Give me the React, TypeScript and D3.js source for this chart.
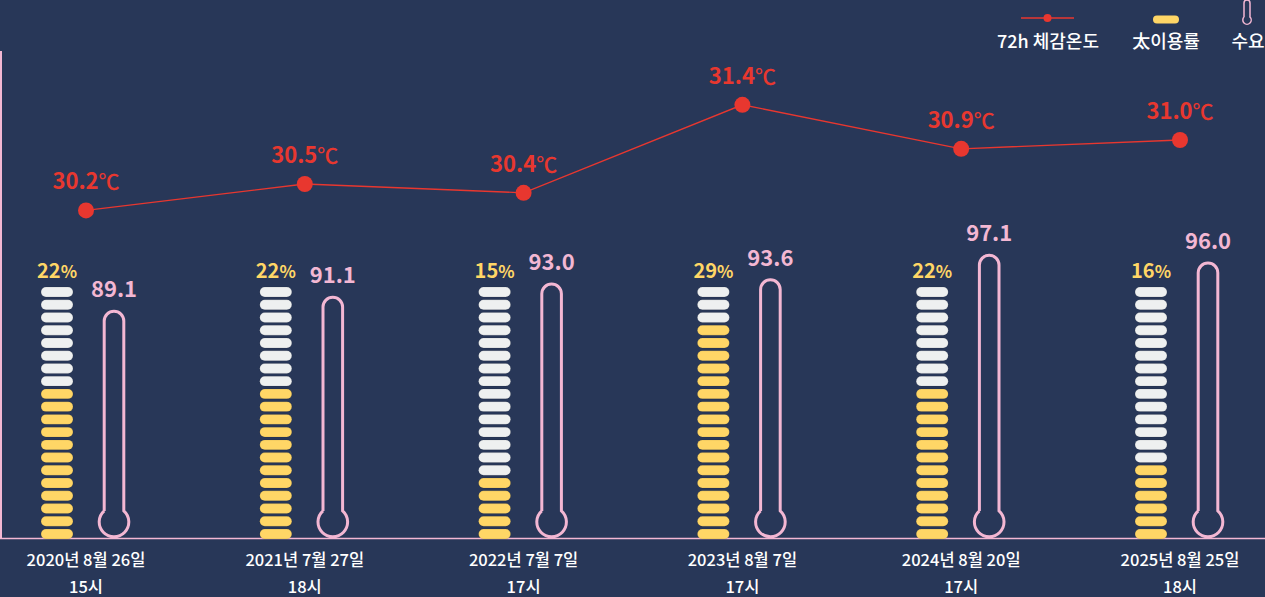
import { useEffect, useRef } from "react";
import * as d3 from "d3";

// values
const dates = ["2020년 8월 26일", "2021년 7월 27일", "2022년 7월 7일", "2023년 8월 7일", "2024년 8월 20일", "2025년 8월 25일"];
const hours = ["15시", "18시", "17시", "17시", "17시", "18시"];
const feelTemp = [30.2, 30.5, 30.4, 31.4, 30.9, 31.0];
const solarRate = [22, 22, 15, 29, 22, 16];
const solarFilled = [12, 12, 5, 17, 12, 6]; // lit segments out of 20
const demand = [89.1, 91.1, 93.0, 93.6, 97.1, 96.0];
const SEGMENTS = 20;

const W = 1265;
const H = 597;
const BG = "#283758";
const RED = "#e8372f";
const YELLOW = "#ffd666";
const PINK = "#f3b7d3";
const WHITE_SEG = "#eef0f0";
const FONT = "'Noto Sans CJK KR', 'Noto Sans', sans-serif";

const App = () => {
  const svgRef = useRef<SVGSVGElement>(null);

  useEffect(() => {
    document.body.style.margin = "0";
    if (!svgRef.current) return;
    const svg = d3.select(svgRef.current);
    svg.selectAll("*").remove();

    svg.append("rect").attr("width", W).attr("height", H).attr("fill", BG);

    const x = d3.scalePoint<string>().domain(dates).range([86, 1180]);
    const yTemp = d3.scaleLinear().domain([30, 32]).range([228, 52]);
    const yDemand = d3.scaleLinear().domain([85, 100]).range([340, 235]);
    const ySeg = d3
      .scaleBand<number>()
      .domain(d3.range(SEGMENTS))
      .range([539, 287])
      .paddingInner(0.22);

    const baseY = 538.5;

    // left and bottom axis lines
    svg.append("line").attr("x1", 1).attr("x2", 1).attr("y1", 51).attr("y2", baseY)
      .attr("stroke", PINK).attr("stroke-width", 2);
    svg.append("line").attr("x1", 0).attr("x2", W).attr("y1", baseY).attr("y2", baseY)
      .attr("stroke", PINK).attr("stroke-width", 1.5);

    const groups = svg
      .append("g")
      .selectAll("g")
      .data(dates)
      .join("g")
      .attr("transform", (d) => `translate(${x(d)},0)`);

    // solar segment bars
    const segW = 32;
    groups.each(function (_, i) {
      const g = d3.select(this);
      g.selectAll("rect.seg")
        .data(d3.range(SEGMENTS))
        .join("rect")
        .attr("class", "seg")
        .attr("x", -29 - segW / 2)
        .attr("y", (k) => ySeg(k)!)
        .attr("width", segW)
        .attr("height", ySeg.bandwidth())
        .attr("rx", ySeg.bandwidth() / 2)
        .attr("fill", (k) => (k < solarFilled[i] ? YELLOW : WHITE_SEG))
        .attr("stroke", "rgba(0,0,0,0.18)")
        .attr("stroke-width", 0.6);

      const pct = g.append("text")
        .attr("x", -29)
        .attr("y", 278)
        .attr("text-anchor", "middle")
        .attr("fill", YELLOW)
        .attr("font-family", FONT)
        .attr("font-weight", 700)
        .attr("font-size", 20);
      pct.append("tspan").text(solarRate[i]);
      pct.append("tspan").attr("font-size", 17).text("%");

      // thermometer for demand
      const cx = 28;
      const w = 9.8;
      const r = 14.8;
      const cy = 522;
      const top = yDemand(demand[i]);
      const join = cy - Math.sqrt(r * r - w * w);
      const p = d3.path();
      p.moveTo(cx - w, join);
      p.lineTo(cx - w, top + w);
      p.arc(cx, top + w, w, Math.PI, 0);
      p.lineTo(cx + w, join);
      const a0 = Math.atan2(join - cy, w);
      const a1 = Math.atan2(join - cy, -w);
      p.arc(cx, cy, r, a0, a1 + 2 * Math.PI, false);
      g.append("path")
        .attr("d", p.toString())
        .attr("fill", "none")
        .attr("stroke", PINK)
        .attr("stroke-width", 3);

      g.append("text")
        .attr("x", cx)
        .attr("y", top - 14)
        .attr("text-anchor", "middle")
        .attr("fill", PINK)
        .attr("font-family", FONT)
        .attr("font-weight", 600)
        .attr("font-size", 22)
        .text(demand[i].toFixed(1));

      // x labels
      g.append("text")
        .attr("y", 566)
        .attr("text-anchor", "middle")
        .attr("fill", "#ffffff")
        .attr("font-family", FONT)
        .attr("font-weight", 500)
        .attr("font-size", 16.5)
        .text(dates[i]);
      g.append("text")
        .attr("y", 593)
        .attr("text-anchor", "middle")
        .attr("fill", "#ffffff")
        .attr("font-family", FONT)
        .attr("font-weight", 500)
        .attr("font-size", 16.5)
        .text(hours[i]);
    });

    // feels-like temperature line
    const line = d3
      .line<number>()
      .x((_, i) => x(dates[i])!)
      .y((d) => yTemp(d));
    svg.append("path")
      .datum(feelTemp)
      .attr("d", line)
      .attr("fill", "none")
      .attr("stroke", RED)
      .attr("stroke-width", 1.3);

    svg.append("g")
      .selectAll("circle")
      .data(feelTemp)
      .join("circle")
      .attr("cx", (_, i) => x(dates[i])!)
      .attr("cy", (d) => yTemp(d))
      .attr("r", 8)
      .attr("fill", RED);

    const tl = svg.append("g")
      .selectAll("text")
      .data(feelTemp)
      .join("text")
      .attr("x", (_, i) => x(dates[i])!)
      .attr("y", (d) => yTemp(d) - 21)
      .attr("text-anchor", "middle")
      .attr("fill", RED)
      .attr("font-family", FONT)
      .attr("font-weight", 600)
      .attr("font-size", 22);
    tl.append("tspan").text((d) => d.toFixed(1));
    tl.append("tspan").attr("font-size", 21).attr("font-weight", 500).text("℃");

    // legend
    const leg = svg.append("g").attr("font-family", FONT).attr("font-size", 18)
      .attr("font-weight", 500).attr("fill", "#ffffff").attr("text-anchor", "middle");
    leg.append("line").attr("x1", 1021).attr("x2", 1074).attr("y1", 18).attr("y2", 18)
      .attr("stroke", RED).attr("stroke-width", 1.3);
    leg.append("circle").attr("cx", 1047.5).attr("cy", 18).attr("r", 4).attr("fill", RED);
    leg.append("text").attr("x", 1048).attr("y", 48).text("72h 체감온도");

    leg.append("rect").attr("x", 1153).attr("y", 15.5).attr("width", 26).attr("height", 8)
      .attr("rx", 4).attr("fill", YELLOW);
    leg.append("text").attr("x", 1166).attr("y", 48).text("太이용률");

    const ip = d3.path();
    ip.moveTo(1244, 17);
    ip.lineTo(1244, 3);
    ip.arc(1247, 3, 3, Math.PI, 0);
    ip.lineTo(1250, 17);
    ip.arc(1247, 20, 4.2, Math.atan2(-3, 3), Math.atan2(-3, -3) + 2 * Math.PI, false);
    leg.append("path").attr("d", ip.toString()).attr("fill", "none")
      .attr("stroke", PINK).attr("stroke-width", 1.5);
    leg.append("text").attr("x", 1248).attr("y", 48).text("수요");
  }, []);

  return (
    <svg
      ref={svgRef}
      width={W}
      height={H}
      style={{ position: "fixed", left: 0, top: 0, display: "block" }}
    />
  );
};

export default App;
